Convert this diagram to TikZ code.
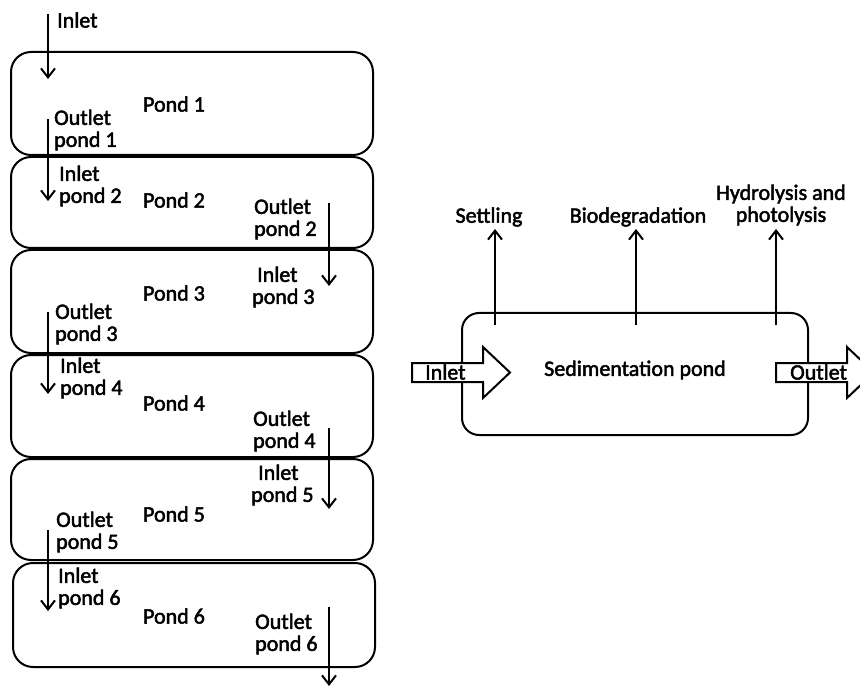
\documentclass[tikz,border=0pt]{standalone}
\usepackage{fontspec}
\setmainfont{Carlito}
\newfontfamily\lblfont{Carlito}[FakeBold=2.2]
\usetikzlibrary{arrows.meta}
\tikzset{
  pondbox/.style={draw, line width=2pt, rounded corners=20pt, inner sep=0pt},
  lbl/.style={inner sep=0pt, font=\fontsize{22}{22}\lblfont},
  lbl2/.style={lbl, align=left, anchor=west},
  flow/.style={line width=2pt, -{Straight Barb[length=9pt,width=14pt,line width=2pt]}},
  blockarrow/.style={draw, line width=2pt, fill=white, line join=miter},
}
\begin{document}
\begin{tikzpicture}[x=1pt, y=-1pt]
\useasboundingbox (0,0) rectangle (860,687);
\clip (0,0) rectangle (860,687);

% ---------- six ponds in series ----------
\node[pondbox, minimum width=362pt, minimum height=103pt] (b1) at (192,103.5) {};
\node[pondbox, minimum width=362pt, minimum height=91pt]  (b2) at (192,202.5) {};
\node[pondbox, minimum width=362pt, minimum height=103pt] (b3) at (192,301.5) {};
\node[pondbox, minimum width=362pt, minimum height=102pt] (b4) at (192,406) {};
\node[pondbox, minimum width=362pt, minimum height=101pt] (b5) at (192,509.5) {};
\node[pondbox, minimum width=362pt, minimum height=104pt] (b6) at (194,615) {};

\node[lbl] (p1) at (174,104) {Pond 1};
\node[lbl] (p2) at (174,200) {Pond 2};
\node[lbl] (p3) at (174,293) {Pond 3};
\node[lbl] (p4) at (174,403) {Pond 4};
\node[lbl] (p5) at (174,514) {Pond 5};
\node[lbl] (p6) at (174,616) {Pond 6};

% flow labels
\node[lbl, anchor=west] (tin) at (57,20) {Inlet};
\node[lbl2] (to1) at (54,130) {Outlet\\pond 1};
\node[lbl2] (ti2) at (59,186) {Inlet\\pond 2};
\node[lbl2] (to2) at (254,219) {Outlet\\pond 2};
\node[lbl2] (ti3) at (252,287) {\hspace*{5pt}Inlet\\pond 3};
\node[lbl2] (to3) at (55,324) {Outlet\\pond 3};
\node[lbl2] (ti4) at (60,378) {Inlet\\pond 4};
\node[lbl2] (to4) at (253,431) {Outlet\\pond 4};
\node[lbl2] (ti5) at (251,485) {\hspace*{7pt}Inlet\\pond 5};
\node[lbl2] (to5) at (56,532) {Outlet\\pond 5};
\node[lbl2] (ti6) at (58,588) {Inlet\\pond 6};
\node[lbl2] (to6) at (255,634) {Outlet\\pond 6};

% flow arrow end points
\coordinate (a0) at (48,14);   \coordinate (a1) at (48,79);
\coordinate (c1) at (48,119);  \coordinate (c2) at (48,201);
\coordinate (d1) at (329,203); \coordinate (d2) at (329,286);
\coordinate (e1) at (48,312);  \coordinate (e2) at (48,394);
\coordinate (f1) at (329,428); \coordinate (f2) at (329,509);
\coordinate (g1) at (48,530);  \coordinate (g2) at (48,611);
\coordinate (h1) at (329,607); \coordinate (h2) at (329,686);

\draw[flow] (a0) -- (a1);
\draw[flow] (c1) -- (c2);
\draw[flow] (d1) -- (d2);
\draw[flow] (e1) -- (e2);
\draw[flow] (f1) -- (f2);
\draw[flow] (g1) -- (g2);
\draw[flow] (h1) -- (h2);

% ---------- sedimentation pond ----------
\node[draw, line width=2pt, rounded corners=17pt, inner sep=0pt,
      minimum width=346pt, minimum height=122pt] (sp) at (635,374) {};
\node[lbl] (spl) at (635,370) {Sedimentation pond};

\coordinate (s1) at (495,325); \coordinate (s2) at (495,229);
\coordinate (g3) at (636,325); \coordinate (g4) at (636,229);
\coordinate (k1) at (776,325); \coordinate (k2) at (776,229);
\draw[flow] (s1) -- (s2);
\draw[flow] (g3) -- (g4);
\draw[flow] (k1) -- (k2);

\node[lbl] (set) at (489,217) {Settling};
\node[lbl] (bio) at (638,217) {Biodegradation};
\node[lbl, align=center] (hyd) at (781,205) {Hydrolysis and\\photolysis};

% block arrows for inflow and outflow
\draw[blockarrow] (412,363) -- (483,363) -- (483,347) -- (510,372.5)
  -- (483,398) -- (483,382) -- (412,382) -- cycle;
\node[lbl, anchor=west] (inl) at (425,372) {Inlet};

\draw[blockarrow] (776,363) -- (847,363) -- (847,347) -- (874,372.5)
  -- (847,398) -- (847,382) -- (776,382) -- cycle;
\node[lbl, anchor=west] (outl) at (790,372) {Outlet};
\end{tikzpicture}
\end{document}
